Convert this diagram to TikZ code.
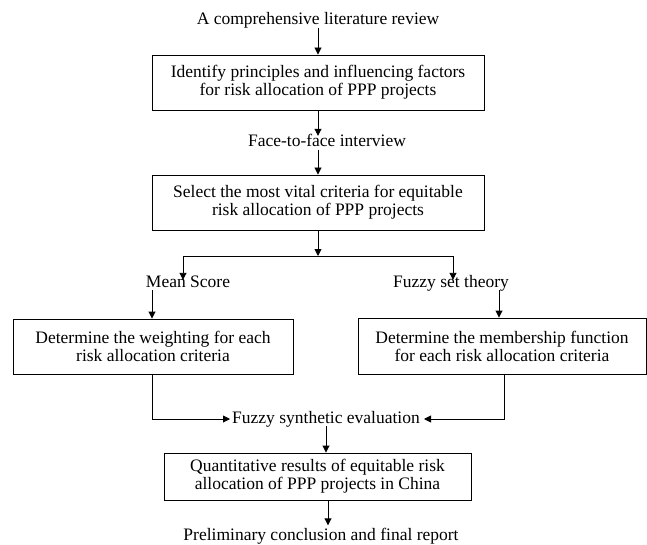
\documentclass[tikz,border=0pt]{standalone}
\usepackage{fontspec}
\setmainfont{Liberation Serif}
\usetikzlibrary{arrows.meta}
\begin{document}
\begin{tikzpicture}[x=1pt,y=-1pt,
  every node/.style={font=\fontsize{17.5}{18}\selectfont},
  box/.style={draw, line width=0.9pt, inner sep=0pt, align=center},
  lbl/.style={inner sep=0pt, text height=11pt, text depth=3pt, anchor=base},
  ln/.style={line width=0.9pt},
  arr/.style={line width=0.9pt, -{Triangle[length=7pt,width=7pt]}}
]
\useasboundingbox (0,0) rectangle (647,545);

% text labels
\node[lbl] (t1) at (318,25) {A comprehensive literature review};
\node[lbl] (t2) at (327,147) {Face-to-face interview};
\node[lbl] (ms) at (188,287) {Mean Score};
\node[lbl] (fst) at (451,287) {Fuzzy set theory};
\node[lbl] (fse) at (326,423) {Fuzzy synthetic evaluation};
\node[lbl] (pre) at (321,540.5) {Preliminary conclusion and final report};

% boxes
\node[box, minimum width=332pt, minimum height=55pt] (b1) at (318,82.5)
  {Identify principles and influencing factors\\for risk allocation of PPP projects};
\node[box, minimum width=332pt, minimum height=55pt] (b2) at (318,202.5)
  {Select the most vital criteria for equitable\\risk allocation of PPP projects};
\node[box, minimum width=280pt, minimum height=55pt] (bl) at (153,346.5)
  {Determine the weighting for each\\risk allocation criteria};
\node[box, minimum width=288pt, minimum height=56pt] (br) at (502,346)
  {Determine the membership function\\for each risk allocation criteria};
\node[box, minimum width=307pt, minimum height=47pt] (bq) at (317.5,476.5)
  {Quantitative results of equitable risk\\allocation of PPP projects in China};

% junction coordinates
\coordinate (sp) at (318,256);
\coordinate (sl) at (183,256);
\coordinate (sr) at (453,256);

% connectors
\draw[arr] (t1.south -| b1.north) -- (b1.north);
\draw[arr] (b1.south) -- (b1.south |- t2.north);
\draw[arr] (b2.north |- t2.south) -- (b2.north);
\draw[arr] (b2.south) -- (sp);
\draw[ln] (sl) -- (sr);
\draw[arr, shorten >=-4pt] (sl) -- (sl |- ms.north);
\draw[arr, shorten >=-4pt] (sr) -- (sr |- fst.north);
\draw[arr] ([xshift=-1pt]bl.north |- ms.south) -- ([xshift=-1pt]bl.north);
\draw[arr] ([xshift=-3pt]br.north |- fst.south) -- ([xshift=-3pt]br.north);
\draw[arr] ([xshift=-1pt]bl.south) |- ([xshift=-2pt]fse.west);
\draw[arr] ([xshift=2pt]br.south) |- ([xshift=4pt]fse.east);
\draw[arr] (fse.south) -- (fse.south |- bq.north);
\draw[arr, shorten >=4pt] ([xshift=2pt]fse.south |- bq.south) -- ([xshift=2pt]fse.south |- pre.north);
\end{tikzpicture}
\end{document}
